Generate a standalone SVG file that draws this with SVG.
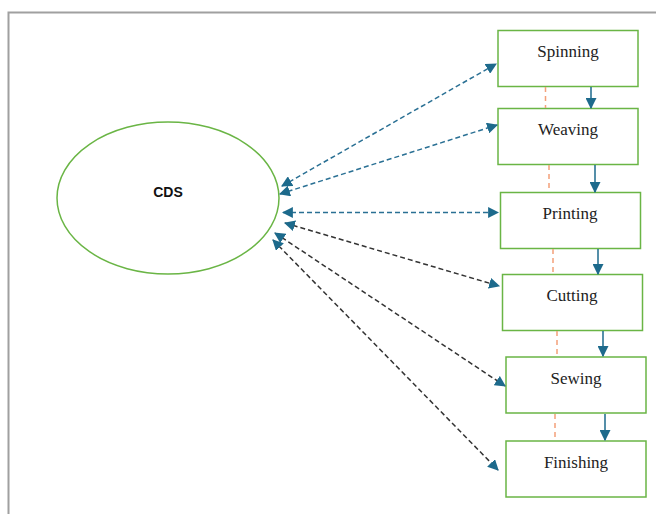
<svg xmlns="http://www.w3.org/2000/svg" width="656" height="514" viewBox="0 0 656 514">
<defs>
<marker id="ah" viewBox="0 0 10 10" refX="9" refY="5" markerWidth="11" markerHeight="11" markerUnits="userSpaceOnUse" orient="auto-start-reverse">
<path d="M0,0 L10,5 L0,10 z" fill="#1d6a8c"/>
</marker>
<style>
.box{fill:#fff;stroke:#6ab545;stroke-width:1.5}
.lbl{font-family:"Liberation Serif","Times New Roman",serif;font-size:17px;fill:#222;text-anchor:middle}
.blue{stroke:#2a7094;stroke-width:1.5;stroke-dasharray:5 3;fill:none}
.dark{stroke:#333;stroke-width:1.5;stroke-dasharray:5 3;fill:none}
.seq{stroke:#1d6a8c;stroke-width:1.5;fill:none}
.org{stroke:#f4a07a;stroke-width:1.5;stroke-dasharray:5 4;fill:none}
</style>
</defs>
<rect width="656" height="514" fill="#fff"/>
<path d="M8.5,514 V12.5 H656" fill="none" stroke="#a0a0a0" stroke-width="2"/>
<g id="cds">
<ellipse cx="168" cy="198" rx="111" ry="76" fill="#fff" stroke="#6ab545" stroke-width="1.5"/>
<text x="168" y="197" font-family="Liberation Sans,Arial,sans-serif" font-size="14" font-weight="bold" text-anchor="middle" fill="#111">CDS</text>
</g>
<g id="spinning"><rect class="box" x="498" y="30.5" width="140" height="56"/><text class="lbl" x="568" y="57">Spinning</text></g>
<g id="weaving"><rect class="box" x="498" y="108.5" width="140" height="56"/><text class="lbl" x="568" y="135">Weaving</text></g>
<g id="printing"><rect class="box" x="500.5" y="192.5" width="140" height="56"/><text class="lbl" x="570" y="219">Printing</text></g>
<g id="cutting"><rect class="box" x="502.5" y="274.5" width="140" height="56"/><text class="lbl" x="572" y="301">Cutting</text></g>
<g id="sewing"><rect class="box" x="506" y="357" width="140" height="56"/><text class="lbl" x="576" y="384">Sewing</text></g>
<g id="finishing"><rect class="box" x="506" y="441" width="140" height="56"/><text class="lbl" x="576" y="468">Finishing</text></g>
<g id="connectors">
<line class="blue" x1="282" y1="186" x2="496" y2="64" marker-start="url(#ah)" marker-end="url(#ah)"/>
<line class="blue" x1="280" y1="194" x2="497" y2="125" marker-start="url(#ah)" marker-end="url(#ah)"/>
<line class="blue" x1="283" y1="212.5" x2="498" y2="212.5" marker-start="url(#ah)" marker-end="url(#ah)"/>
<line class="dark" x1="285" y1="223" x2="499" y2="286" marker-start="url(#ah)" marker-end="url(#ah)"/>
<line class="dark" x1="275" y1="233" x2="505" y2="386" marker-start="url(#ah)" marker-end="url(#ah)"/>
<line class="dark" x1="273" y1="240" x2="498" y2="470" marker-start="url(#ah)" marker-end="url(#ah)"/>
<line class="seq" x1="591" y1="87" x2="591" y2="108" marker-end="url(#ah)"/>
<line class="seq" x1="595" y1="165" x2="595" y2="192" marker-end="url(#ah)"/>
<line class="seq" x1="598" y1="249" x2="598" y2="274" marker-end="url(#ah)"/>
<line class="seq" x1="603" y1="331" x2="603" y2="356" marker-end="url(#ah)"/>
<line class="seq" x1="605" y1="414" x2="605" y2="440" marker-end="url(#ah)"/>
<line class="org" x1="545.5" y1="87" x2="545.5" y2="108"/>
<line class="org" x1="549" y1="165" x2="549" y2="192"/>
<line class="org" x1="553" y1="249" x2="553" y2="274"/>
<line class="org" x1="557" y1="331" x2="557" y2="357"/>
<line class="org" x1="555" y1="414" x2="555" y2="441"/>
</g>
</svg>
